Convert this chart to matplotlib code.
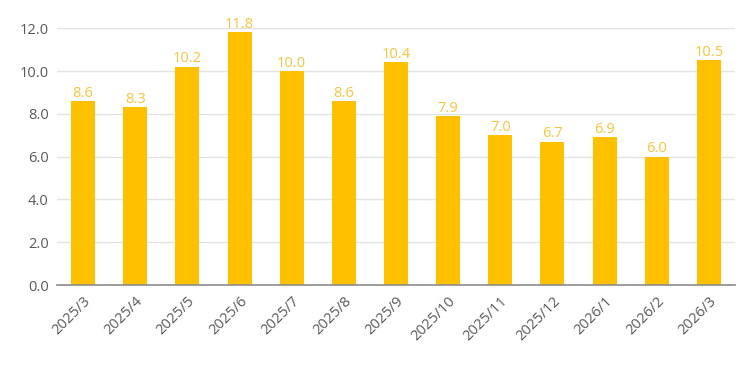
import matplotlib
matplotlib.use('Agg')
import matplotlib.pyplot as plt

months = ['2025/3', '2025/4', '2025/5', '2025/6', '2025/7', '2025/8', '2025/9',
          '2025/10', '2025/11', '2025/12', '2026/1', '2026/2', '2026/3']
values = [8.6, 8.3, 10.2, 11.8, 10.0, 8.6, 10.4, 7.9, 7.0, 6.7, 6.9, 6.0, 10.5]
yticks = [0, 2, 4, 6, 8, 10, 12]

plt.rcParams['font.family'] = ['Open Sans', 'DejaVu Sans']

fig = plt.figure(figsize=(7.5, 3.66), dpi=100)
ax = fig.add_axes([0.076, 0.221, 0.904, 0.702])

x = range(len(months))
ax.bar(x, values, width=0.46, color='#FFC000', zorder=3)
for xi, v in zip(x, values):
    ax.text(xi, v + 0.02, f'{v:.1f}', ha='center', va='bottom',
            color='#F7C43A', fontsize=10.5, clip_on=False)

ax.set_xlim(-0.5, len(months) - 0.5)
ax.set_ylim(0, 12)
ax.set_yticks(yticks)
ax.set_yticklabels([f'{t:.1f}' for t in yticks], color='#595959', fontsize=10.5)
ax.set_xticks(list(x))
ax.set_xticklabels(months, rotation=45, ha='right', rotation_mode='anchor',
                   color='#595959', fontsize=10.5)
ax.tick_params(axis='both', length=0, pad=6)
ax.grid(axis='y', color='#E3E3E3', linewidth=1, zorder=0)
for s in ['top', 'right', 'left']:
    ax.spines[s].set_visible(False)
ax.spines['bottom'].set_color('#8C8C8C')
ax.spines['bottom'].set_linewidth(1.2)
ax.spines['bottom'].set_zorder(4)

fig.savefig('out.png', dpi=100)
